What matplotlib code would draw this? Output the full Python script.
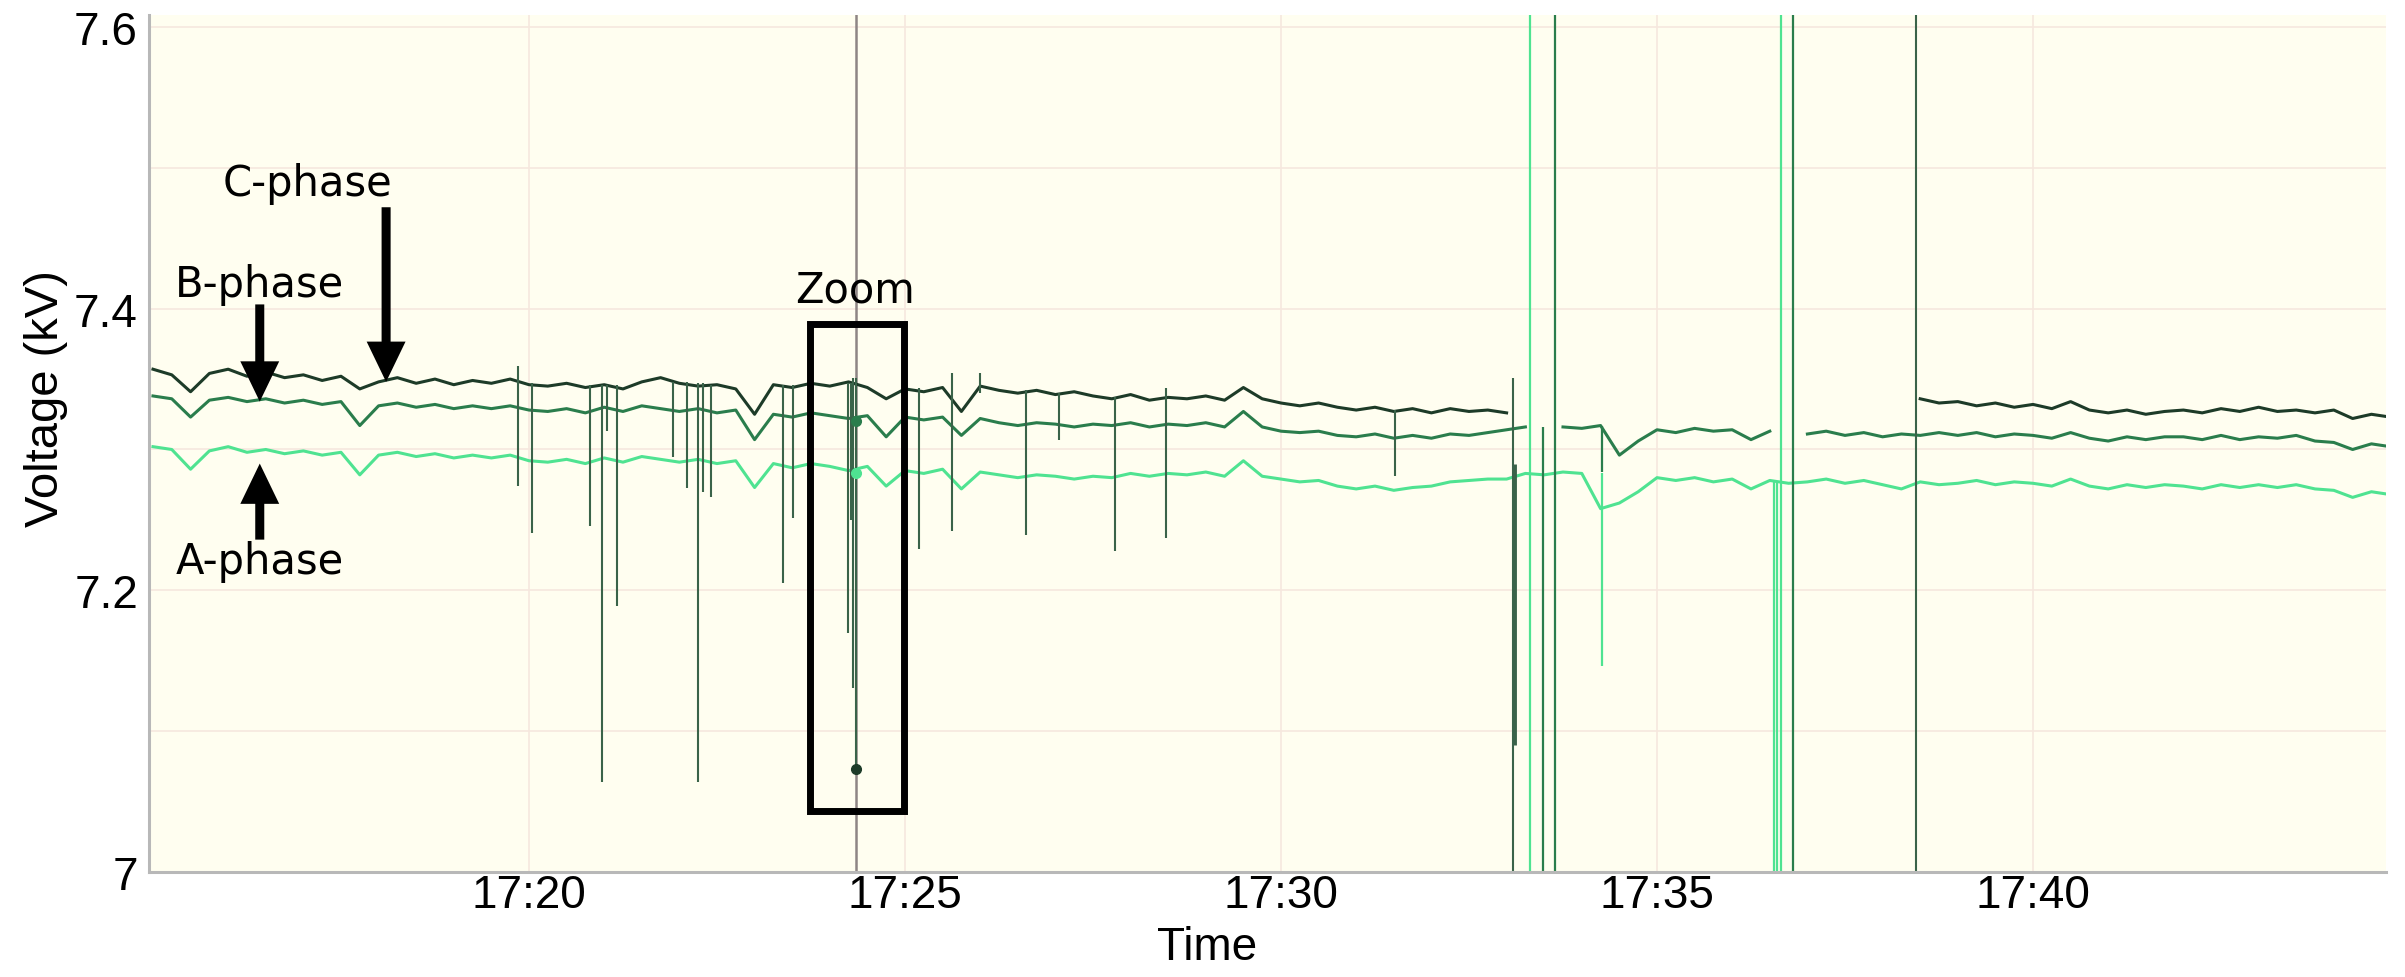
import numpy as np
import matplotlib
matplotlib.use('Agg')
import matplotlib.pyplot as plt
from matplotlib.patches import Rectangle
from matplotlib.ticker import FuncFormatter, MultipleLocator

nan = np.nan

# phase voltages (kV), one sample every 15 s starting 17:15:00
c_phase = [
    7.357, 7.353, 7.341, 7.354, 7.357, 7.352, 7.355, 7.351, 7.353, 7.349, 7.352, 7.343,
    7.348, 7.351, 7.347, 7.350, 7.346, 7.349, 7.347, 7.350, 7.346, 7.345, 7.347, 7.344,
    7.346, 7.343, 7.348, 7.351, 7.347, 7.345, 7.346, 7.343, 7.325, 7.346, 7.344, 7.347,
    7.345, 7.348, 7.344, 7.336, 7.343, 7.341, 7.344, 7.327, 7.345, 7.342, 7.340, 7.342,
    7.339, 7.341, 7.338, 7.336, 7.339, 7.335, 7.337, 7.336, 7.338, 7.335, 7.344, 7.336,
    7.333, 7.331, 7.333, 7.330, 7.328, 7.330, 7.327, 7.329, 7.326, 7.329, 7.327, 7.328,
    7.326, nan, nan, nan, nan, nan, nan, nan, nan, nan, nan, nan,
    nan, nan, nan, nan, nan, nan, nan, nan, nan, nan, 7.336, 7.333,
    7.334, 7.331, 7.333, 7.330, 7.332, 7.329, 7.334, 7.328, 7.326, 7.328, 7.325, 7.327,
    7.328, 7.326, 7.329, 7.327, 7.330, 7.327, 7.328, 7.326, 7.328, 7.322, 7.325, 7.323,
]
b_phase = [
    7.338, 7.336, 7.323, 7.335, 7.337, 7.334, 7.336, 7.333, 7.335, 7.332, 7.334, 7.317,
    7.331, 7.333, 7.330, 7.332, 7.329, 7.331, 7.329, 7.331, 7.328, 7.327, 7.329, 7.326,
    7.330, 7.327, 7.331, 7.329, 7.327, 7.329, 7.326, 7.328, 7.307, 7.325, 7.323, 7.326,
    7.324, 7.322, 7.324, 7.309, 7.323, 7.321, 7.323, 7.310, 7.322, 7.319, 7.317, 7.319,
    7.318, 7.316, 7.318, 7.317, 7.319, 7.316, 7.318, 7.317, 7.319, 7.316, 7.327, 7.316,
    7.313, 7.312, 7.313, 7.310, 7.309, 7.311, 7.308, 7.310, 7.308, 7.311, 7.310, 7.312,
    7.314, 7.316, nan, 7.316, 7.315, 7.317, 7.296, 7.306, 7.314, 7.312, 7.315, 7.313,
    7.314, 7.307, 7.313, nan, 7.311, 7.313, 7.310, 7.312, 7.309, 7.311, 7.310, 7.312,
    7.310, 7.312, 7.309, 7.311, 7.310, 7.308, 7.312, 7.308, 7.306, 7.309, 7.307, 7.309,
    7.309, 7.307, 7.310, 7.307, 7.309, 7.308, 7.310, 7.306, 7.305, 7.300, 7.304, 7.302,
]
a_phase = [
    7.302, 7.300, 7.286, 7.299, 7.302, 7.298, 7.300, 7.297, 7.299, 7.296, 7.298, 7.282,
    7.296, 7.298, 7.295, 7.297, 7.294, 7.296, 7.294, 7.296, 7.292, 7.291, 7.293, 7.290,
    7.294, 7.291, 7.295, 7.293, 7.291, 7.293, 7.290, 7.292, 7.273, 7.290, 7.287, 7.290,
    7.288, 7.285, 7.288, 7.274, 7.285, 7.283, 7.286, 7.272, 7.284, 7.282, 7.280, 7.282,
    7.281, 7.279, 7.281, 7.280, 7.283, 7.281, 7.283, 7.282, 7.284, 7.281, 7.292, 7.281,
    7.279, 7.277, 7.278, 7.274, 7.272, 7.274, 7.271, 7.273, 7.274, 7.277, 7.278, 7.279,
    7.279, 7.283, 7.282, 7.284, 7.283, 7.258, 7.262, 7.270, 7.280, 7.278, 7.280, 7.277,
    7.279, 7.272, 7.278, 7.276, 7.277, 7.279, 7.276, 7.278, 7.275, 7.272, 7.277, 7.275,
    7.276, 7.278, 7.275, 7.277, 7.276, 7.274, 7.279, 7.274, 7.272, 7.275, 7.273, 7.275,
    7.274, 7.272, 7.275, 7.273, 7.275, 7.273, 7.275, 7.272, 7.271, 7.266, 7.270, 7.268,
]

# short events (minutes after 17:00, low kV, high kV); 0 / 8 kV run off the scale
c_event_t = [19.85, 20.04, 20.81, 20.97, 21.04, 21.17, 21.91, 22.10, 22.25, 22.31,
             22.42, 23.38, 23.51, 24.24, 24.28, 24.31, 24.35, 25.19, 25.63, 26.00,
             26.61, 27.05, 27.79, 28.47, 31.52, 33.09, 33.10, 38.44]
c_event_lo = [7.274, 7.241, 7.246, 7.064, 7.313, 7.189, 7.295, 7.273, 7.064, 7.270,
              7.266, 7.205, 7.251, 7.170, 7.250, 7.131, 7.073, 7.229, 7.242, 7.340,
              7.239, 7.307, 7.228, 7.237, 7.281, 0.0, 7.090, 0.0]
c_event_hi = [7.359, 7.347, 7.346, 7.346, 7.346, 7.346, 7.348, 7.348, 7.347, 7.347,
              7.346, 7.346, 7.346, 7.347, 7.347, 7.351, 7.351, 7.344, 7.354, 7.354,
              7.342, 7.340, 7.337, 7.344, 7.328, 7.351, 7.290, 8.0]
b_event_t = [33.48, 33.64, 34.27, 36.81]
b_event_lo = [0.0, 0.0, 7.284, 0.0]
b_event_hi = [7.316, 8.0, 7.317, 8.0]
a_event_t = [33.31, 34.27, 36.56, 36.60, 36.65]
a_event_lo = [0.0, 7.146, 0.0, 0.0, 0.0]
a_event_hi = [8.0, 7.283, 7.277, 7.277, 8.0]

# highlighted samples at the cursor
cursor_t = 24.35
cursor_vals = {'C': 7.073, 'B': 7.320, 'A': 7.283}

time_ticks = [20, 25, 30, 35, 40]

col_c = '#1d3b28'
col_c_spike = '#3a6349'
col_b = '#2a7d4c'
col_a = '#4fe391'
bg = '#fffef0'
grid_col = '#f6e8de'

def fmt_time(x, pos):
    h, m = divmod(int(round(17 * 60 + x)), 60)
    return '%d:%02d' % (h, m)

def main():
    t = 15 + 0.25 * np.arange(len(c_phase))

    fig = plt.figure(figsize=(24.05, 9.78), dpi=100)
    ax = fig.add_axes([0.06195, 0.10736, 0.93015, 0.87628])
    ax.set_facecolor(bg)

    ax.set_xlim(14.947, 44.694)
    ax.set_ylim(7.0, 7.6085)

    ax.set_xticks(time_ticks)
    ax.xaxis.set_major_formatter(FuncFormatter(fmt_time))
    ax.yaxis.set_major_locator(MultipleLocator(0.2))
    ax.yaxis.set_minor_locator(MultipleLocator(0.1))
    ax.yaxis.set_major_formatter(FuncFormatter(lambda v, p: '%g' % round(v, 2)))
    ax.set_axisbelow(True)
    ax.grid(True, which='both', color=grid_col, lw=1.2)

    for s in ['top', 'right']:
        ax.spines[s].set_visible(False)
    for s in ['left', 'bottom']:
        ax.spines[s].set_color('#b8b8b8')
        ax.spines[s].set_linewidth(2.2)

    ax.tick_params(axis='both', which='both', length=0)
    ax.tick_params(axis='y', pad=8)
    ax.tick_params(axis='x', pad=0.5)
    for lab in ax.get_xticklabels() + ax.get_yticklabels():
        lab.set_fontfamily('Liberation Sans')
        lab.set_fontsize(33)

    ax.set_xlabel('Time', fontfamily='Liberation Sans', fontsize=33)
    ax.set_ylabel('Voltage (kV)', fontfamily='Liberation Sans', fontsize=34)
    ax.xaxis.set_label_coords(0.473, -0.062)
    ax.yaxis.set_label_coords(-0.0362, 0.554)

    # cursor
    ax.axvline(cursor_t, color='#8e8585', lw=1.8, zorder=1.5)

    ax.plot(t, a_phase, color=col_a, lw=2.2, zorder=2)
    ax.plot(t, b_phase, color=col_b, lw=2.2, zorder=2.1)
    ax.plot(t, c_phase, color=col_c, lw=2.2, zorder=2.2)

    ax.vlines(a_event_t, a_event_lo, a_event_hi, color=col_a, lw=1.6, zorder=2)
    ax.vlines(b_event_t, b_event_lo, b_event_hi, color=col_b, lw=1.6, zorder=2.1)
    lws = [3.5 if (hi - lo) < 0.25 and lo > 7.05 and hi < 7.3 else 1.5
           for lo, hi in zip(c_event_lo, c_event_hi)]
    ax.vlines(c_event_t, c_event_lo, c_event_hi, color=col_c_spike, lw=lws, zorder=2.3)

    ax.plot([cursor_t], [cursor_vals['A']], 'o', color=col_a, ms=7, zorder=3)
    ax.plot([cursor_t], [cursor_vals['B']], 'o', color=col_b, ms=7, zorder=3)
    ax.plot([cursor_t], [cursor_vals['C']], 'o', color=col_c, ms=7, zorder=3)

    # zoom box
    ax.add_patch(Rectangle((23.74, 7.043), 24.99 - 23.74, 7.389 - 7.043,
                           fill=False, ec='black', lw=5, zorder=4))
    ax.text(24.34, 7.405, 'Zoom', ha='center', va='baseline', fontsize=30, zorder=5)

    # phase labels with arrows
    arrow = dict(arrowstyle='simple,head_length=2.9,head_width=2.8,tail_width=0.65',
                 mutation_scale=10, color='black', lw=0, shrinkA=0, shrinkB=0)
    ax.text(17.06, 7.481, 'C-phase', ha='center', va='baseline', fontsize=30, zorder=5)
    ax.annotate('', xy=(18.10, 7.348), xytext=(18.10, 7.472), arrowprops=arrow, zorder=5)
    ax.text(16.42, 7.409, 'B-phase', ha='center', va='baseline', fontsize=30, zorder=5)
    ax.annotate('', xy=(16.42, 7.334), xytext=(16.42, 7.403), arrowprops=arrow, zorder=5)
    ax.text(16.42, 7.212, 'A-phase', ha='center', va='baseline', fontsize=30, zorder=5)
    ax.annotate('', xy=(16.42, 7.290), xytext=(16.42, 7.236), arrowprops=arrow, zorder=5)

    fig.savefig('out.png', dpi=100, facecolor='white')

if __name__ == '__main__':
    main()
